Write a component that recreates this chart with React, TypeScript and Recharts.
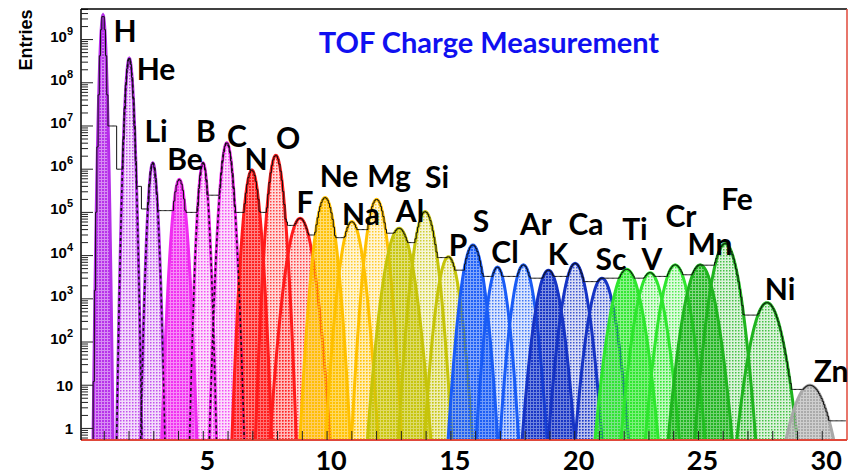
import React from "react";
import { ComposedChart, Area, Line, XAxis, YAxis } from "recharts";

// fitted charge peaks (Z position, counts at the top, gaussian width)
const elements = ["H", "He", "Li", "Be", "B", "C", "N", "O", "F", "Ne", "Na", "Mg", "Al", "Si", "P", "S", "Cl", "Ar", "K", "Ca", "Sc", "Ti", "V", "Cr", "Mn", "Fe", "Ni", "Zn"];
const peakZ = [0.95, 2.01, 2.96, 4.03, 4.99, 5.95, 6.96, 7.93, 8.91, 9.92, 11.0, 12.0, 12.91, 13.96, 14.9, 15.89, 16.88, 17.93, 18.94, 20.02, 21.1, 22.1, 23.05, 24.06, 25.07, 26.08, 27.77, 29.5];
const peakCounts = [3.7e9, 3.7e8, 1.4e6, 5.8e5, 1.4e6, 4.1e6, 9.6e5, 2.1e6, 7.3e4, 2.2e5, 6.1e4, 2.0e5, 4.3e4, 1.04e5, 9.4e3, 1.76e4, 5.4e3, 6.1e3, 4.6e3, 6.6e3, 3.0e3, 4.8e3, 4.0e3, 6.1e3, 6.1e3, 1.9e4, 815, 10];
const peakSigma = [0.06, 0.08, 0.09, 0.135, 0.1, 0.125, 0.15, 0.15, 0.25, 0.2, 0.22, 0.2, 0.27, 0.22, 0.22, 0.22, 0.2, 0.22, 0.25, 0.25, 0.26, 0.3, 0.28, 0.28, 0.3, 0.27, 0.32, 0.4];
// histogram level just after each peak, and further on in the valley before the next one
const tailCounts = [1.0e7, 4.0e5, 1.1e5, 1.0e5, 2.5e5, 1.0e5, 1.0e5, 6.0e4, 3.0e4, 2.6e4, 4.0e4, 3.3e4, 2.0e4, 9.0e3, 4.6e3, 3.3e3, 3.3e3, 3.0e3, 3.3e3, 2.5e3, 3.0e3, 3.0e3, 3.3e3, 3.6e3, 6.0e3, 420, 8, 1.5];
const valleyCounts = [1.0e6, 1.2e5, 1.1e5, 1.0e5, 2.5e5, 1.0e5, 1.0e5, 5.0e4, 3.0e4, 2.6e4, 4.0e4, 3.3e4, 2.0e4, 9.0e3, 4.6e3, 3.3e3, 3.3e3, 3.0e3, 3.3e3, 2.5e3, 3.0e3, 3.0e3, 3.3e3, 3.6e3, 6.0e3, 420, 8, 1.5];

const xLabels = [5, 10, 15, 20, 25, 30];
const decadeExp = [0, 1, 2, 3, 4, 5, 6, 7, 8, 9];

// one colour per group of three elements
const groupColors = ["#b52ee8", "#f02cf0", "#ff1c1c", "#ffc000", "#c6c40a", "#1a5cf5", "#1634c4", "#2ee62e", "#1fb41f", "#a8a8a8"];
// light curves drawn with a dashed black line over the outline
const dashedOutline = ["He", "Li", "B", "C"];

const labelSpots: [number, number][] = [
  [125, 42], [156, 80], [156, 142], [185, 170], [206, 142], [237, 147], [256, 170], [288, 149],
  [305, 213], [339, 187], [361, 225], [389, 187], [410, 222], [437, 188], [458, 256], [481, 232],
  [505, 263], [536, 235], [558, 265], [586, 235], [611, 270], [635, 240], [652, 270], [681, 227],
  [710, 255], [737, 210], [780, 300], [831, 382],
];

const W = 850;
const H = 475;
const PLOT_LEFT = 81;
const X_MAX = 31;
const Y_MIN = 0.54;
const Y_MAX = 5.1e9;

const gauss = (i: number, z: number) =>
  peakCounts[i] * Math.exp(-((z - peakZ[i]) ** 2) / (2 * peakSigma[i] ** 2));

const fitCurves = elements.map((_, i) => {
  const half = peakSigma[i] * Math.sqrt(2 * Math.log(peakCounts[i] / 0.3));
  const pts: { z: number; v: number }[] = [];
  const n = 64;
  for (let k = 0; k <= n; k++) {
    const z = peakZ[i] - half + (2 * half * k) / n;
    pts.push({ z, v: Math.max(gauss(i, z), 0.3) });
  }
  return pts;
});

// floor of the measured histogram outside the fitted peaks
const floorAt = (z: number) => {
  for (let j = 0; j < elements.length; j++) {
    const next = j + 1 < elements.length ? peakZ[j + 1] : X_MAX;
    if (z >= peakZ[j] && z < next) {
      return z < (peakZ[j] + next) / 2 ? tailCounts[j] : valleyCounts[j];
    }
  }
  return 0;
};

const BIN = 0.05;
const histogram: { z: number; v: number }[] = [];
for (let b = 0; b < 610; b++) {
  const z0 = 0.5 + b * BIN;
  const zc = z0 + BIN / 2;
  let sum = 0;
  elements.forEach((_, i) => (sum += gauss(i, zc)));
  histogram.push({ z: z0, v: Math.max(sum, floorAt(zc), 0.2) });
}

const yTicks: number[] = [];
for (let e = -1; e <= 9; e++) {
  for (let m = 1; m <= 9; m++) {
    const v = m * 10 ** e;
    if (v >= Y_MIN && v <= Y_MAX) yTicks.push(v);
  }
}
const xTicks = Array.from({ length: 30 }, (_, i) => i + 1);

const YTick = (props: any) => {
  const { y, payload } = props;
  const v = payload.value;
  const e = Math.round(Math.log10(v));
  const major = Math.abs(Math.log10(v) - e) < 1e-6 && decadeExp.includes(e);
  return (
    <g>
      <line x1={PLOT_LEFT} x2={PLOT_LEFT + (major ? 12 : 7)} y1={y} y2={y} stroke="#222" strokeWidth={1} />
      {major && (
        <text
          x={PLOT_LEFT - 8}
          y={y + (e > 1 ? 2 : 6)}
          textAnchor="end"
          fontFamily="'Liberation Sans', Arial, sans-serif"
          fontWeight={700}
          fontSize={15}
          fill="#000"
        >
          {e === 0 ? "1" : "10"}
          {e > 1 && (
            <tspan dy={-7} fontSize={11}>
              {e}
            </tspan>
          )}
        </text>
      )}
    </g>
  );
};

const XTick = (props: any) => {
  const { x, y, payload } = props;
  const v = payload.value;
  return (
    <g>
      <line x1={x} x2={x} y1={y} y2={y - 9} stroke="#222" strokeWidth={1} />
      {xLabels.includes(v) && (
        <text x={x + 4} y={y + 30} textAnchor="middle" fontFamily="Lato, sans-serif" fontWeight={700} fontSize={27} fill="#000">
          {v}
        </text>
      )}
    </g>
  );
};

export default function App() {
  return (
    <div style={{ position: "absolute", left: 0, top: 0, width: W, height: H, background: "#fff" }}>
      <svg width={0} height={0} style={{ position: "absolute" }}>
        <defs>
          {groupColors.map((c, g) => (
            <React.Fragment key={g}>
              <pattern id={`dense${g}`} width={3} height={3} patternUnits="userSpaceOnUse">
                <rect width={3} height={3} fill={c} opacity={0.55} />
                <rect width={2} height={2} fill={c} opacity={0.95} />
              </pattern>
              <pattern id={`light${g}`} width={3} height={3} patternUnits="userSpaceOnUse">
                <rect width={3} height={3} fill={c} opacity={0.16} />
                <rect width={1.5} height={1.5} fill={c} opacity={0.8} />
              </pattern>
            </React.Fragment>
          ))}
        </defs>
      </svg>
      <ComposedChart width={W} height={H} margin={{ top: 9, right: 3, bottom: 0, left: 0 }}>
        {fitCurves.map((pts, i) => {
          const g = Math.floor(i / 3);
          const fill = i % 3 === 0 ? `url(#dense${g})` : `url(#light${g})`;
          return (
            <Area
              key={elements[i]}
              data={pts}
              dataKey="v"
              type="linear"
              stroke={groupColors[g]}
              strokeWidth={3}
              fill={fill}
              fillOpacity={1}
              dot={false}
              activeDot={false}
              isAnimationActive={false}
            />
          );
        })}
        {fitCurves.map((pts, i) =>
          dashedOutline.includes(elements[i]) ? (
            <Line
              key={`dash-${elements[i]}`}
              data={pts}
              dataKey="v"
              type="linear"
              stroke="#111"
              strokeWidth={1.6}
              strokeDasharray="3 3"
              dot={false}
              activeDot={false}
              isAnimationActive={false}
            />
          ) : null
        )}
        <Line
          data={histogram}
          dataKey="v"
          type="stepAfter"
          stroke="#111"
          strokeWidth={1}
          dot={false}
          activeDot={false}
          isAnimationActive={false}
        />
        <XAxis
          dataKey="z"
          type="number"
          domain={[0.06, X_MAX]}
          allowDataOverflow
          ticks={xTicks}
          interval={0}
          tick={<XTick />}
          tickLine={false}
          tickSize={0}
          tickMargin={0}
          height={35}
          axisLine={{ stroke: "#e0483a", strokeWidth: 2 }}
        />
        <YAxis
          scale="log"
          domain={[Y_MIN, Y_MAX]}
          allowDataOverflow
          ticks={yTicks}
          interval={0}
          tick={<YTick />}
          tickLine={false}
          tickSize={0}
          tickMargin={0}
          width={81}
          axisLine={{ stroke: "#000", strokeWidth: 1.5 }}
        />
      </ComposedChart>
      <svg width={W} height={H} style={{ position: "absolute", left: 0, top: 0, pointerEvents: "none" }}>
        <line x1={81} x2={847} y1={9} y2={9} stroke="#000" strokeWidth={1.5} />
        <line x1={847} x2={847} y1={9} y2={440} stroke="#e0483a" strokeWidth={1.5} />
        <text
          transform="translate(32,40) rotate(-90)"
          textAnchor="middle"
          fontFamily="'Liberation Sans', Arial, sans-serif"
          fontWeight={700}
          fontSize={18}
          fill="#000"
        >
          Entries
        </text>
        <text x={489} y={53} textAnchor="middle" fontFamily="Lato, sans-serif" fontWeight={700} fontSize={29} fill="#1010f0">
          TOF Charge Measurement
        </text>
        {elements.map((el, i) => (
          <text
            key={el}
            x={labelSpots[i][0]}
            y={labelSpots[i][1]}
            textAnchor="middle"
            fontFamily="Lato, sans-serif"
            fontWeight={700}
            fontSize={30}
            fill="#000"
          >
            {el}
          </text>
        ))}
      </svg>
    </div>
  );
}
